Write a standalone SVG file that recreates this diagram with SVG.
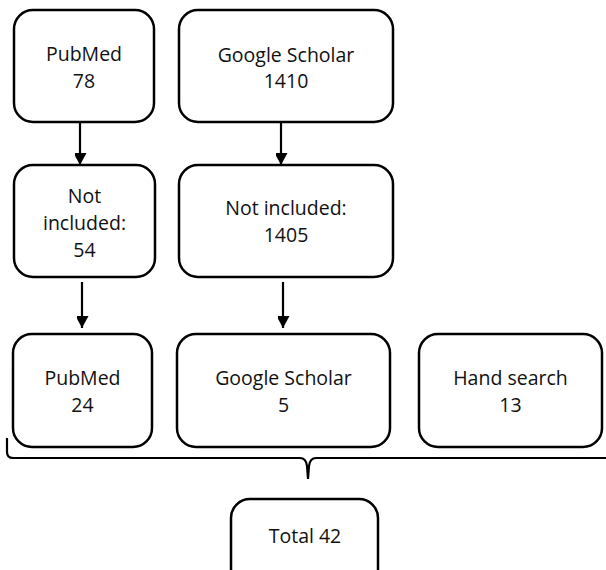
<svg xmlns="http://www.w3.org/2000/svg" width="606" height="570" viewBox="0 0 606 570">
<style>
.box{fill:#fff;stroke:#000;stroke-width:2.5}
.t{font-family:"Open Sans","Liberation Sans",sans-serif;font-size:19.5px;fill:#111;text-anchor:middle}
.c{fill:none;stroke:#000;stroke-width:2.2}
</style>
<defs>
<marker id="ah" markerWidth="13" markerHeight="12" refX="12" refY="6.5" orient="auto" markerUnits="userSpaceOnUse">
<path d="M0,0 L12,6.5 L0,13 Z" fill="#000"/>
</marker>
</defs>
<rect width="606" height="570" fill="#fff"/>
<g id="connectors">
<line class="c" x1="80" y1="122" x2="80" y2="165" marker-end="url(#ah)"/>
<line class="c" x1="281" y1="122" x2="281" y2="165" marker-end="url(#ah)"/>
<line class="c" x1="82" y1="282" x2="82" y2="328" marker-end="url(#ah)"/>
<line class="c" x1="283" y1="282" x2="283" y2="328" marker-end="url(#ah)"/>
<path class="c" d="M7,438 L7,452 Q7,458 13,458 L300,458 Q306,458 307,466 L308,479 L309,466 Q310,458 316,458 L608,458"/>
</g>
<g id="n1"><rect class="box" x="14" y="10" width="140" height="112" rx="19"/>
<text class="t" x="84" y="61">PubMed</text><text class="t" x="84" y="88">78</text></g>
<g id="n2"><rect class="box" x="179" y="10" width="214" height="112" rx="19"/>
<text class="t" x="286" y="62">Google Scholar</text><text class="t" x="286" y="88">1410</text></g>
<g id="n3"><rect class="box" x="14" y="165" width="141" height="112" rx="19"/>
<text class="t" x="84.5" y="203">Not</text><text class="t" x="84.5" y="230">included:</text><text class="t" x="84.5" y="257">54</text></g>
<g id="n4"><rect class="box" x="179" y="165" width="214" height="112" rx="19"/>
<text class="t" x="286" y="215">Not included:</text><text class="t" x="286" y="242">1405</text></g>
<g id="n5"><rect class="box" x="13" y="334" width="139" height="113" rx="19"/>
<text class="t" x="82.5" y="385">PubMed</text><text class="t" x="82.5" y="412">24</text></g>
<g id="n6"><rect class="box" x="177" y="334" width="213" height="113" rx="19"/>
<text class="t" x="283.5" y="385">Google Scholar</text><text class="t" x="283.5" y="412">5</text></g>
<g id="n7"><rect class="box" x="419" y="334" width="183" height="113" rx="19"/>
<text class="t" x="510.5" y="385">Hand search</text><text class="t" x="510.5" y="412">13</text></g>
<g id="n8"><rect class="box" x="231" y="499" width="147" height="90" rx="19"/>
<text class="t" x="305" y="543">Total 42</text></g>
</svg>
